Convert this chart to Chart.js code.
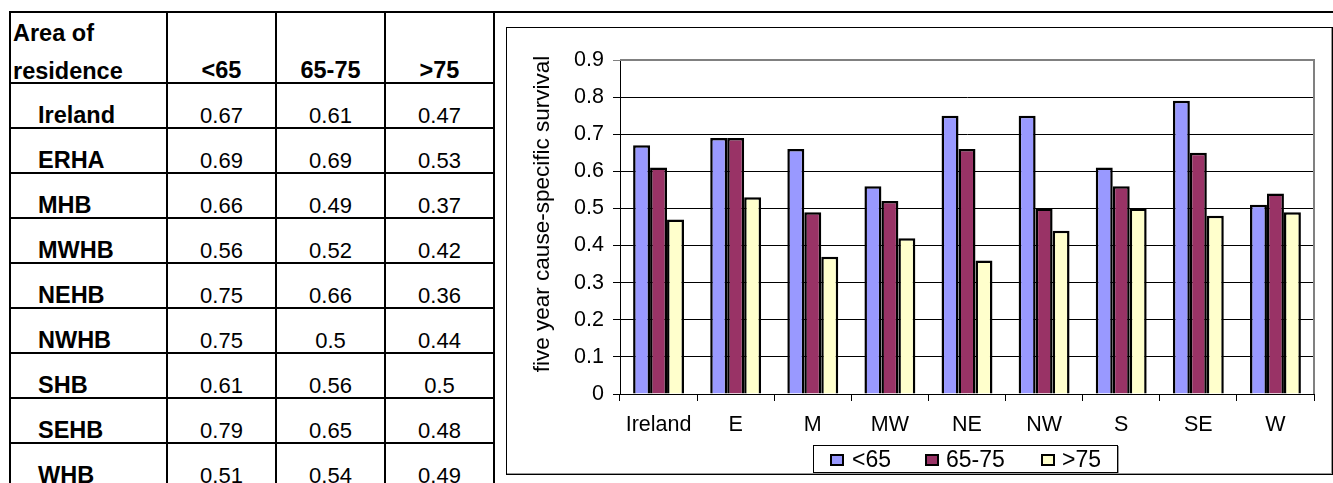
<!DOCTYPE html>
<html>
<head>
<meta charset="utf-8">
<script src="https://cdn.jsdelivr.net/npm/chart.js@4"></script>
<style>
  html, body { margin: 0; padding: 0; background: #fff; overflow: hidden; }
  body { width: 1333px; height: 483px; position: relative; font-family: "Liberation Sans", Arial, sans-serif; color: #000; }
  #topRule { position: absolute; left: 9px; top: 11px; width: 1324px; height: 2px; background: #000; }
  #table { position: absolute; left: 9px; top: 11px; }
  .cell { position: absolute; box-sizing: border-box; border-right: 2px solid #000; border-bottom: 2px solid #000; font-size: 22px; }
  .cell span { position: absolute; bottom: -2px; white-space: nowrap; }
  .cell span.bold { font-weight: bold; font-size: 23.5px; }
  .cell span.head { bottom: auto; top: 1px; line-height: 38px; }
  #frame { position: absolute; left: 506px; top: 27px; width: 827px; height: 448px; box-sizing: border-box; border: 1px solid #000; box-shadow: inset -1px -1px 0 #999; }
  #chart { position: absolute; left: 0; top: 0; }
  #legend { position: absolute; left: 306px; top: 417px; width: 305px; height: 28px; box-sizing: border-box; border: 1px solid #000; box-shadow: 1px 1px 0 #999; font-size: 23px; }
  .sw { position: absolute; top: 8px; width: 14px; height: 12px; box-sizing: border-box; border: 2px solid #000; }
  .lt { position: absolute; top: 0; line-height: 26px; white-space: nowrap; }
</style>
</head>
<body>
<div id="topRule"></div>
<div id="table"></div>
<div id="frame">
  <canvas id="chart" width="825" height="446"></canvas>
  <div id="legend"></div>
</div>
<script>
// Five-year cause-specific survival by health board area and age group
const areaNames = ['Ireland', 'ERHA', 'MHB', 'MWHB', 'NEHB', 'NWHB', 'SHB', 'SEHB', 'WHB'];
const axisLabels = ['Ireland', 'E', 'M', 'MW', 'NE', 'NW', 'S', 'SE', 'W'];
const ageGroups = ['<65', '65-75', '>75'];
const under65 = [0.67, 0.69, 0.66, 0.56, 0.75, 0.75, 0.61, 0.79, 0.51];
const age65to75 = [0.61, 0.69, 0.49, 0.52, 0.66, 0.5, 0.56, 0.65, 0.54];
const over75 = [0.47, 0.53, 0.37, 0.42, 0.36, 0.44, 0.5, 0.48, 0.49];
const yTicks = [0, 0.1, 0.2, 0.3, 0.4, 0.5, 0.6, 0.7, 0.8, 0.9];
const seriesColors = ['#9999FF', '#993366', '#FFFFCC'];
const yTitle = 'five year cause-specific survival';

// ---- data table ----
const colWidths = [157, 109, 109, 109];
const headerHeight = 71;
const rowHeight = 45;
const table = document.getElementById('table');
table.style.borderLeft = '2px solid #000';
table.style.width = colWidths.reduce((a, b) => a + b, 0) + 'px';
table.style.height = '500px';

function esc(s) { return s.replace(/</g, '&lt;').replace(/>/g, '&gt;'); }

function addCell(x, y, w, h, html, align, cls, pad) {
  const c = document.createElement('div');
  c.className = 'cell';
  c.style.left = x + 'px';
  c.style.top = y + 'px';
  c.style.width = w + 'px';
  c.style.height = h + 'px';
  const s = document.createElement('span');
  s.innerHTML = html;
  if (cls) s.className = cls;
  if (align === 'center') { s.style.left = '0'; s.style.right = '0'; s.style.textAlign = 'center'; }
  else { s.style.left = pad + 'px'; }
  c.appendChild(s);
  table.appendChild(c);
}

const colX = [0];
for (let i = 0; i < colWidths.length - 1; i++) colX.push(colX[i] + colWidths[i]);
const columns = [under65, age65to75, over75];

addCell(colX[0], 2, colWidths[0], headerHeight, 'Area of<br>residence', 'left', 'bold head', 2);
ageGroups.forEach((g, j) => addCell(colX[j + 1], 2, colWidths[j + 1], headerHeight, esc(g), 'center', 'bold', 0));
areaNames.forEach((name, i) => {
  const y = 2 + headerHeight + i * rowHeight;
  addCell(colX[0], y, colWidths[0], rowHeight, name, 'left', 'bold', 27);
  columns.forEach((col, j) => addCell(colX[j + 1], y, colWidths[j + 1], rowHeight, String(col[i]), 'center', '', 0));
});

// ---- legend ----
const legend = document.getElementById('legend');
const swX = [16, 111, 227];
const txtX = [38, 132, 248];
ageGroups.forEach((g, i) => {
  const sw = document.createElement('div');
  sw.className = 'sw';
  sw.style.left = swX[i] + 'px';
  sw.style.background = seriesColors[i];
  legend.appendChild(sw);
  const t = document.createElement('div');
  t.className = 'lt';
  t.style.left = txtX[i] + 'px';
  t.textContent = g;
  legend.appendChild(t);
});

// ---- chart ----
const FONT = '"Liberation Sans", Arial, sans-serif';

// gray top/right edge of the plot area plus the rotated value-axis title
const plotFrame = {
  id: 'plotFrame',
  afterDraw(chart) {
    const { ctx, chartArea: a } = chart;
    ctx.save();
    ctx.strokeStyle = '#808080';
    ctx.lineWidth = 2;
    ctx.beginPath();
    ctx.moveTo(a.left, a.top);
    ctx.lineTo(a.right, a.top);
    ctx.lineTo(a.right, a.bottom);
    ctx.stroke();

    ctx.fillStyle = '#000';
    ctx.font = '22.5px ' + FONT;
    ctx.textAlign = 'center';
    ctx.textBaseline = 'middle';
    ctx.translate(a.left - 77, (a.top + a.bottom) / 2 - 13);
    ctx.rotate(-Math.PI / 2);
    ctx.fillText(yTitle, 0, 0);
    ctx.restore();
  }
};

new Chart(document.getElementById('chart'), {
  type: 'bar',
  data: {
    labels: axisLabels,
    datasets: [under65, age65to75, over75].map((d, i) => ({
      label: ageGroups[i],
      data: d,
      backgroundColor: seriesColors[i],
      borderColor: '#000',
      borderWidth: 2.5,
      barPercentage: 1,
      categoryPercentage: 0.66
    }))
  },
  options: {
    responsive: false,
    animation: false,
    events: [],
    layout: { padding: { left: 20, right: 18, top: 32, bottom: 40 } },
    plugins: { legend: { display: false }, tooltip: { enabled: false } },
    scales: {
      x: {
        offset: true,
        afterFit: s => { s.height = 40; },
        border: { color: '#000', width: 1 },
        grid: { offset: true, drawOnChartArea: false, drawTicks: true, tickLength: 7, color: '#000' },
        ticks: { color: '#000', font: { family: FONT, size: 21.5 }, padding: 11, maxRotation: 0 }
      },
      y: {
        min: 0,
        max: 0.9,
        afterFit: s => { s.width = 93; },
        afterBuildTicks: s => { s.ticks = yTicks.map(v => ({ value: v })); },
        border: { color: '#000', width: 1 },
        grid: {
          color: c => (c.tick && Math.abs(c.tick.value - 0.9) < 1e-9) ? '#808080' : '#000',
          tickLength: 7,
          drawTicks: true
        },
        ticks: {
          color: '#000',
          font: { family: FONT, size: 21.5 },
          padding: 9,
          callback: v => v === 0 ? '0' : Number(v).toFixed(1)
        }
      }
    }
  },
  plugins: [plotFrame]
});
</script>
</body>
</html>
